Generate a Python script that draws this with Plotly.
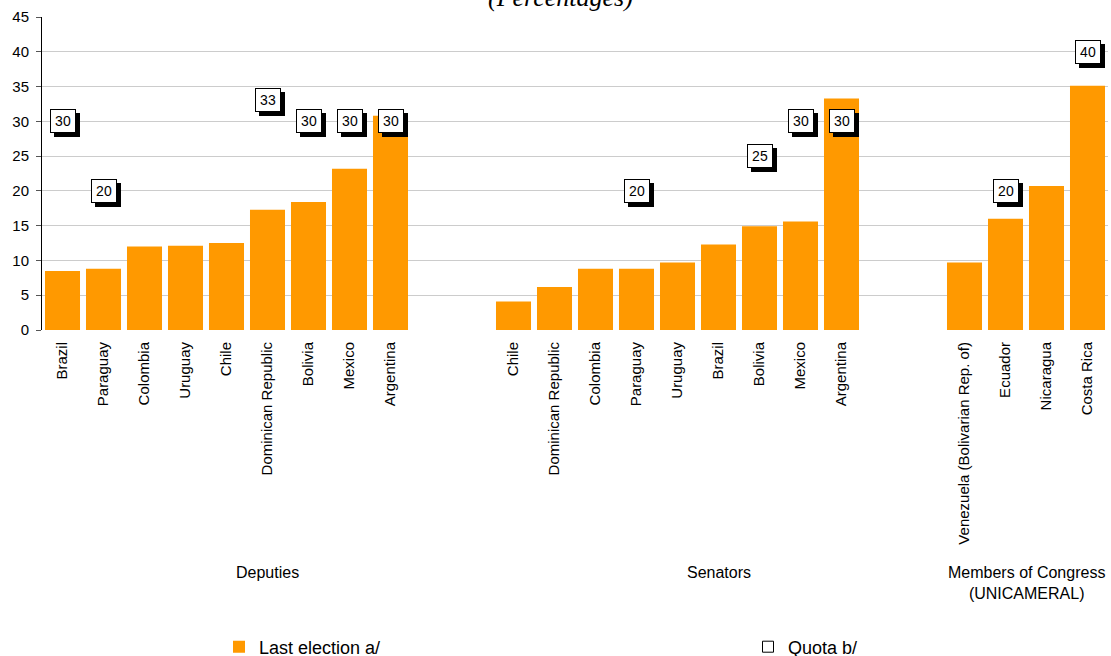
import plotly.graph_objects as go

# ---- data ----
group_names = ["Deputies", "Senators", "Members of Congress<br>(UNICAMERAL)"]

deputies_countries = ["Brazil", "Paraguay", "Colombia", "Uruguay", "Chile",
                      "Dominican Republic", "Bolivia", "Mexico", "Argentina"]
deputies_last = [8.5, 8.8, 12.0, 12.1, 12.5, 17.3, 18.4, 23.2, 30.8]
deputies_quota = [30, 20, None, None, None, 33, 30, 30, 30]

senators_countries = ["Chile", "Dominican Republic", "Colombia", "Paraguay", "Uruguay",
                      "Brazil", "Bolivia", "Mexico", "Argentina"]
senators_last = [4.1, 6.2, 8.8, 8.8, 9.7, 12.3, 14.9, 15.6, 33.3]
senators_quota = [None, None, None, 20, None, None, 25, 30, 30]

unicameral_countries = ["Venezuela (Bolivarian Rep. of)", "Ecuador", "Nicaragua", "Costa Rica"]
unicameral_last = [9.7, 16.0, 20.7, 35.1]
unicameral_quota = [None, 20, None, 40]

y_ticks = [0, 5, 10, 15, 20, 25, 30, 35, 40, 45]

# ---- build category axis (with spacer slots between groups) ----
groups = [
    (group_names[0], deputies_countries, deputies_last, deputies_quota, 2),
    (group_names[1], senators_countries, senators_last, senators_quota, 2),
    (group_names[2], unicameral_countries, unicameral_last, unicameral_quota, 0),
]
x_ids, y_vals, tick_text, q_vals, spans = [], [], [], [], []
for gname, countries, last, quota, n_gap in groups:
    start = len(x_ids)
    for c, v, q in zip(countries, last, quota):
        x_ids.append(gname + "|" + c)
        y_vals.append(v)
        tick_text.append(c)
        q_vals.append(q)
    for k in range(n_gap):
        x_ids.append(gname + "|gap" + str(k))
        y_vals.append(None)
        tick_text.append("")
        q_vals.append(None)
    spans.append((gname, start, len(x_ids) - 1))

FONT = "Liberation Sans, Arial, Helvetica, sans-serif"
ORANGE = "#FF9900"

fig = go.Figure()
fig.add_trace(go.Bar(
    x=x_ids, y=y_vals, name="Last election a/",
    marker=dict(color=ORANGE, line=dict(width=0)),
    hoverinfo="skip",
))
fig.add_trace(go.Scatter(
    x=[None], y=[None], mode="markers", name="Quota b/",
    marker=dict(symbol="square", size=11, color="white",
                line=dict(color="black", width=1)),
    hoverinfo="skip",
))

annotations = []
# quota boxes with drop shadow
for xi, q in zip(x_ids, q_vals):
    if q is None:
        continue
    annotations.append(dict(
        x=xi, y=q, xref="x", yref="y", text=str(q), showarrow=False,
        font=dict(family=FONT, size=14, color="black"),
        bgcolor="black", bordercolor="black", borderwidth=1, borderpad=1,
        width=22, height=20, xshift=4, yshift=-4,
    ))
    annotations.append(dict(
        x=xi, y=q, xref="x", yref="y", text=str(q), showarrow=False,
        font=dict(family=FONT, size=14, color="black"),
        bgcolor="white", bordercolor="black", borderwidth=1, borderpad=1,
        width=22, height=20,
    ))
# group labels
for gname, s, e in spans:
    annotations.append(dict(
        x=(s + e) / 2, y=-0.74, xref="x", yref="paper", yanchor="top",
        text=gname, showarrow=False,
        font=dict(family=FONT, size=16, color="black"),
    ))
# title (cut off at the top)
annotations.append(dict(
    x=0.486, y=1, xref="paper", yref="paper", yanchor="bottom", yshift=3,
    text="<i>(Percentages)</i>", showarrow=False,
    font=dict(family="Liberation Serif, Times New Roman, serif", size=26, color="black"),
))

fig.update_layout(
    width=1111, height=656,
    margin=dict(l=42, r=3, t=17, b=326),
    paper_bgcolor="white", plot_bgcolor="white",
    bargap=0.146,
    showlegend=True,
    legend=dict(
        orientation="h", xref="container", yref="container",
        x=219 / 1111, y=1 - 647 / 656, xanchor="left", yanchor="middle",
        font=dict(family=FONT, size=18, color="black"),
        entrywidth=484, entrywidthmode="pixels",
        bgcolor="rgba(0,0,0,0)",
    ),
    annotations=annotations,
    xaxis=dict(
        type="category", categoryorder="array", categoryarray=x_ids,
        tickmode="array", tickvals=x_ids, ticktext=tick_text,
        tickangle=-90, showgrid=False, showline=False, zeroline=False,
        ticks="", ticklabelstandoff=8,
        tickfont=dict(family=FONT, size=15, color="black"),
        range=[-0.5, len(x_ids) - 0.5],
    ),
    yaxis=dict(
        range=[0, 45], tickmode="array", tickvals=y_ticks,
        showgrid=True, gridcolor="#cccccc", gridwidth=1,
        showline=True, linecolor="black", linewidth=1,
        ticks="outside", ticklen=5, tickcolor="#555555",
        ticklabelstandoff=4, zeroline=False,
        tickfont=dict(family=FONT, size=15, color="black"),
    ),
)

fig.write_html("out.html", config={"displayModeBar": False},
               post_script="document.body.style.margin='0';document.body.style.overflow='hidden';")
